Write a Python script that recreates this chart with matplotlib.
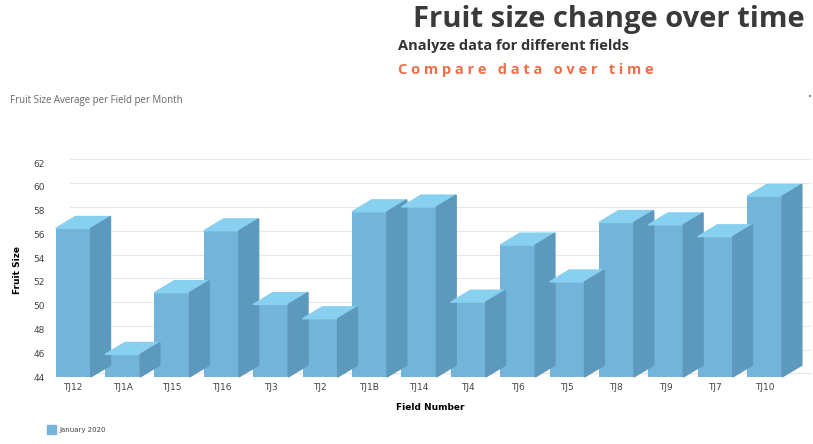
"""
Fruit size average per field, drawn as pseudo-3D bars.
"""
import matplotlib
matplotlib.use("Agg")
import matplotlib.pyplot as plt
from matplotlib.patches import Polygon, Rectangle

FIELDS = ["TJ12", "TJ1A", "TJ15", "TJ16", "TJ3", "TJ2", "TJ1B", "TJ14",
          "TJ4", "TJ6", "TJ5", "TJ8", "TJ9", "TJ7", "TJ10"]
FRUIT_SIZE = [56.5, 45.9, 51.1, 56.3, 50.1, 48.9, 57.9, 58.3,
              50.3, 55.1, 52.0, 57.0, 56.8, 55.8, 59.2]
Y_TICKS = [44, 46, 48, 50, 52, 54, 56, 58, 60, 62]
SERIES_NAME = "January 2020"

FRONT = "#72b4da"
TOP = "#87d0f0"
SIDE = "#5d98bd"
BASE = 44
WIDTH = 0.71
DX, DY = 0.4, 1.0  # depth offset in data units

fig = plt.figure(figsize=(8.13, 4.44), dpi=100)
ax = fig.add_axes([50 / 813, 1 - 377 / 444, 760 / 813, 214 / 444])
ax.set_xlim(-0.47, 14.92)
ax.set_ylim(BASE, 62)

# back-wall grid lines
for t in Y_TICKS:
    ax.plot([-0.47 + DX, 14.92], [t + DY * 0.3, t + DY * 0.3], color="#e6e6e6", lw=0.8, zorder=0, clip_on=False)

bars = ax.bar(range(len(FIELDS)), [v - BASE for v in FRUIT_SIZE], bottom=BASE,
              width=WIDTH, color=FRONT, zorder=2, clip_on=False)
for b in bars:
    x0, x1 = b.get_x(), b.get_x() + b.get_width()
    y1 = b.get_y() + b.get_height()
    ax.add_patch(Polygon([(x0, y1), (x1, y1), (x1 + DX, y1 + DY), (x0 + DX, y1 + DY)],
                         closed=True, color=TOP, zorder=2, clip_on=False))
    ax.add_patch(Polygon([(x1, BASE), (x1 + DX, BASE + DY), (x1 + DX, y1 + DY), (x1, y1)],
                         closed=True, color=SIDE, zorder=2, clip_on=False))

ax.set_xticks(range(len(FIELDS)))
ax.set_xticklabels(FIELDS, fontsize=6.5, color="#444444")
ax.set_yticks(Y_TICKS)
ax.set_yticklabels([str(t) for t in Y_TICKS], fontsize=6.5, color="#444444")
ax.tick_params(length=0, pad=4)
for s in ax.spines.values():
    s.set_visible(False)
ax.set_xlabel("Field Number", fontsize=6.5, fontweight="bold", labelpad=8)
ax.set_ylabel("Fruit Size", fontsize=6.5, fontweight="bold", labelpad=8)

fig.text(805 / 813, 1 - 20 / 444, "Fruit size change over time", ha="right", va="center",
         fontsize=21, fontweight="bold", color="#3a3a3a", family="Open Sans")
fig.text(398 / 813, 1 - 46 / 444, "Analyze data for different fields", ha="left", va="center",
         fontsize=10.5, fontweight="bold", color="#333333", family="Open Sans")
fig.text(398 / 813, 1 - 70 / 444, " ".join("Compare data over time"), ha="left", va="center",
         fontsize=10.5, fontweight="bold", color="#ef6d47", family="Open Sans")
fig.text(10 / 813, 1 - 101 / 444, "Fruit Size Average per Field per Month", ha="left", va="center",
         fontsize=7, color="#666666", family="Open Sans")
fig.text(810 / 813, 1 - 97 / 444, "•", ha="center", va="center", fontsize=5, color="#666666")

fig.patches.append(Rectangle((47 / 813, 1 - 434 / 444), 9 / 813, 9 / 444,
                             transform=fig.transFigure, color=FRONT))
fig.text(59 / 813, 1 - 430 / 444, SERIES_NAME, ha="left", va="center", fontsize=5, color="#444444")

fig.savefig("out.png", dpi=100)
